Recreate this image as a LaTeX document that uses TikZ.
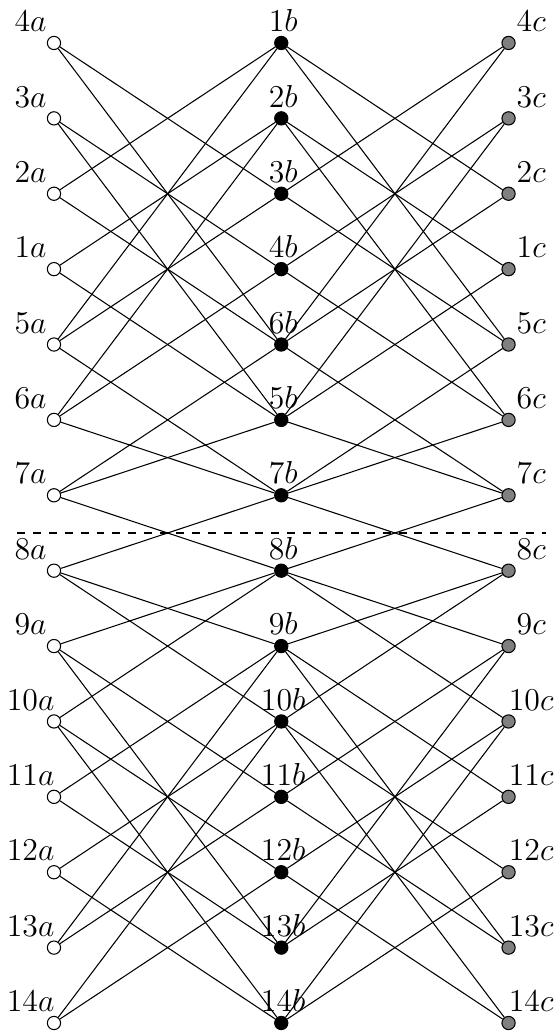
\documentclass[tikz,border=0pt]{standalone}
\begin{document}
\begin{tikzpicture}[x=1cm,y=1cm,
  vtx/.style={circle,draw=black,line width=0.4pt,inner sep=0pt,minimum size=5pt},
  anode/.style={vtx,fill=white},
  bnode/.style={vtx,fill=black},
  cnode/.style={vtx,fill=gray},
  lab/.style={font=\fontsize{11.5}{13}\selectfont,inner sep=0pt,anchor=base},
  edgeline/.style={line width=0.4pt}]
\useasboundingbox (-0.716,0.570) rectangle (6.667,-13.146);
\foreach \i/\la/\lb/\lc in {0/4/1/4, 1/3/2/3, 2/2/3/2, 3/1/4/1, 4/5/6/5, 5/6/5/6, 6/7/7/7, 7/8/8/8, 8/9/9/9, 9/10/10/10, 10/11/11/11, 11/12/12/12, 12/13/13/13, 13/14/14/14} {
  \node[anode] (a\i) at (0,-\i) {};
  \node[bnode] (b\i) at (3.015,-\i) {};
  \node[cnode] (c\i) at (6.03,-\i) {};
  \node[lab] (la\i) at (-0.31,-\i+0.15) {$\la a$};
  \node[lab] (lb\i) at (3.04,-\i+0.15) {$\lb b$};
  \node[lab] (lc\i) at (6.33,-\i+0.15) {$\lc c$};
}
\foreach \i/\j in {0/2,0/4,2/0,4/0,1/3,1/5,3/1,5/1,2/4,4/2,3/5,5/3,4/6,6/4,5/6,6/5,6/7,7/6,7/8,8/7,7/9,9/7,8/10,10/8,8/12,12/8,9/11,11/9,9/13,13/9,10/12,12/10,11/13,13/11} {
  \draw[edgeline] (a\i) -- (b\j);
  \draw[edgeline] (c\i) -- (b\j);
}
\coordinate (dl) at (-0.49,-6.5);
\coordinate (dr) at (6.52,-6.5);
\draw[dashed] (dl) -- (dr);
\end{tikzpicture}
\end{document}
